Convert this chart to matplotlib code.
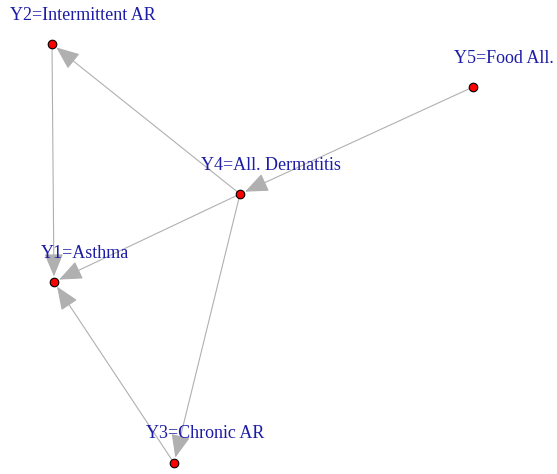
#!/usr/bin/env python3
"""
Directed graph of allergic conditions, drawn igraph-style with matplotlib.
"""
import matplotlib
matplotlib.use("Agg")
import matplotlib.pyplot as plt
from matplotlib.patches import FancyArrowPatch

# node names and layout positions (pixel-like layout coords, y grows downwards)
nodes = ["Y1", "Y2", "Y3", "Y4", "Y5"]
labels = ["Y1=Asthma", "Y2=Intermittent AR", "Y3=Chronic AR",
          "Y4=All. Dermatitis", "Y5=Food All."]
pos_x = [54, 52, 174, 240, 473]
pos_y = [282, 44, 463, 194, 87]

# directed edges (from, to)
edges = [("Y4", "Y2"), ("Y5", "Y4"), ("Y4", "Y1"),
         ("Y2", "Y1"), ("Y3", "Y1"), ("Y4", "Y3")]

W, H = 557, 474
fig = plt.figure(figsize=(W / 100, H / 100), dpi=100)
ax = fig.add_axes([0, 0, 1, 1])
ax.set_xlim(0, W)
ax.set_ylim(H, 0)
ax.axis("off")

idx = {n: i for i, n in enumerate(nodes)}

# edges with arrowheads stopping at the node border
for a, b in edges:
    i, j = idx[a], idx[b]
    arr = FancyArrowPatch((pos_x[i], pos_y[i]), (pos_x[j], pos_y[j]),
                          arrowstyle="-|>,head_length=0.8,head_width=0.33",
                          mutation_scale=18, color="#b0b0b0", lw=0.8,
                          shrinkA=0, shrinkB=4, zorder=1)
    ax.add_patch(arr)

ax.scatter(pos_x, pos_y, s=38, c="red", edgecolors="black", linewidths=0.8, zorder=3)

for x, y, lab in zip(pos_x, pos_y, labels):
    ax.text(x + 31, y - 29, lab, ha="center", va="center", color="#1c1ca6",
            fontsize=13, family="Liberation Serif", zorder=4)

fig.savefig("out.png", dpi=100)
